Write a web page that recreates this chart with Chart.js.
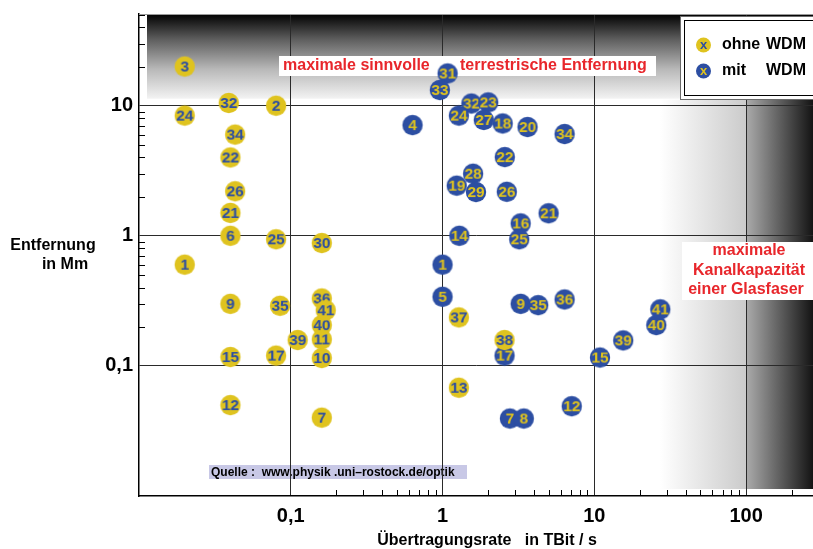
<!DOCTYPE html>
<html>
<head>
<meta charset="utf-8">
<script src="https://cdn.jsdelivr.net/npm/chart.js@4.4.1/dist/chart.umd.min.js"></script>
<style>
  html, body { margin: 0; padding: 0; background: #fff; overflow: hidden; }
  canvas { display: block; }
</style>
</head>
<body>
<canvas id="chart" width="813" height="549"></canvas>
<script>
// Optical fibre transmission records: data rate (TBit/s) against distance (Mm)

// without wavelength multiplexing
const ohneLabels = ['1', '2', '3', '6', '7', '9', '10', '11', '12', '13', '15', '17', '21', '22', '24', '25', '26', '30', '32', '34', '35', '36', '37', '38', '39', '40', '41'];
const ohneRate   = [0.02, 0.08, 0.02, 0.04, 0.16, 0.04, 0.16, 0.16, 0.04, 1.28, 0.04, 0.08, 0.04, 0.04, 0.02, 0.08, 0.043, 0.16, 0.039, 0.043, 0.085, 0.16, 1.28, 2.56, 0.111, 0.16, 0.17];
const ohneDist   = [0.6, 10, 20, 1, 0.04, 0.3, 0.115, 0.16, 0.05, 0.068, 0.117, 0.12, 1.5, 4, 8.4, 0.94, 2.2, 0.88, 10.5, 6, 0.29, 0.33, 0.236, 0.158, 0.158, 0.206, 0.268];

// with wavelength multiplexing
const mitLabels = ['1', '4', '5', '7', '8', '9', '12', '14', '15', '16', '17', '18', '19', '20', '21', '22', '32', '23', '24', '25', '26', '27', '28', '29', '31', '33', '34', '35', '36', '39', '40', '41'];
const mitRate   = [1.0, 0.634, 1.0, 2.78, 3.43, 3.27, 7.1, 1.29, 10.9, 3.27, 2.56, 2.49, 1.24, 3.63, 5.0, 2.57, 1.55, 2.0, 1.28, 3.2, 2.65, 1.87, 1.59, 1.66, 1.08, 0.96, 6.37, 4.27, 6.37, 15.5, 25.6, 27.2];
const mitDist   = [0.6, 7.1, 0.34, 0.0394, 0.0394, 0.3, 0.049, 1.0, 0.116, 1.245, 0.12, 7.3, 2.43, 6.86, 1.49, 4.03, 10.4, 10.6, 8.4, 0.94, 2.18, 7.77, 3.0, 2.17, 17.7, 13.2, 6.06, 0.293, 0.324, 0.157, 0.206, 0.272];

// axes
const rateRange = [0.01, 276];
const distRange = [0.01, 50.7];
const rateLabelled = [0.1, 1, 10, 100];
const distLabelled = [0.1, 1, 10];
const rateMinorFrom = 0.1;
const distMinorFrom = 0.1;

const seriesNames = ['ohne', 'mit'];

const YELLOW = '#dfc31f';
const BLUE = '#2c4ea2';
const RED = '#e8262b';
const FONT = '"Liberation Sans", Arial, Helvetica, sans-serif';

Chart.defaults.font.family = FONT;

function badge(text, fill, ink) {
  const c = document.createElement('canvas');
  c.width = 26; c.height = 26;
  const g = c.getContext('2d');
  g.beginPath();
  g.arc(13, 13, 10.2, 0, Math.PI * 2);
  g.fillStyle = fill;
  g.fill();
  g.font = 'bold 15.5px ' + FONT;
  g.fillStyle = ink;
  g.textAlign = 'center';
  g.textBaseline = 'middle';
  g.fillText(text, 13, 13.5);
  return c;
}

function logTicks(min, max) {
  const out = [];
  for (let e = Math.floor(Math.log10(min)); e <= Math.ceil(Math.log10(max)); e++) {
    for (let m = 1; m <= 9; m++) {
      const v = +(m * Math.pow(10, e)).toPrecision(6);
      if (v >= min && v <= max) out.push({ value: v });
    }
  }
  return out;
}
const isIn = (list, v) => list.some(t => Math.abs(t - v) / t < 1e-6);
const deNum = v => String(v).replace('.', ',');

// shaded bands, source note
const backdrop = {
  id: 'backdrop',
  beforeDraw(chart) {
    const { ctx, chartArea: a, scales: { x, y } } = chart;
    ctx.save();
    const y10 = y.getPixelForValue(10);
    // upper band: distance limit
    const bandBottom = y10 - 7;
    let g = ctx.createLinearGradient(0, a.top, 0, bandBottom);
    g.addColorStop(0, '#000000');
    g.addColorStop(0.3, '#5e5e5e');
    g.addColorStop(0.65, '#b8b8b8');
    g.addColorStop(1, '#f3f3f3');
    ctx.fillStyle = g;
    ctx.fillRect(a.left + 8, a.top, a.right - a.left - 8, bandBottom - a.top);
    // right band: channel capacity limit
    const p100 = x.getPixelForValue(100);
    const rTop = y10 - 6, rBot = a.bottom - 7;
    g = ctx.createLinearGradient(p100 - 86, 0, p100, 0);
    g.addColorStop(0, '#ffffff');
    g.addColorStop(1, '#cbcbcb');
    ctx.fillStyle = g;
    ctx.fillRect(p100 - 86, rTop, 86, rBot - rTop);
    g = ctx.createLinearGradient(p100, 0, a.right, 0);
    g.addColorStop(0, '#ababab');
    g.addColorStop(1, '#141414');
    ctx.fillStyle = g;
    ctx.fillRect(p100, rTop, a.right - p100, rBot - rTop);
    // source note
    ctx.font = 'bold 12px ' + FONT;
    ctx.fillStyle = '#c8c8e6';
    ctx.fillRect(209, 465, 258, 14);
    ctx.fillStyle = '#000';
    ctx.textBaseline = 'middle';
    ctx.textAlign = 'left';
    ctx.fillText('Quelle :  www.physik .uni\u2013rostock.de/optik', 211, 472.5);
    ctx.restore();
  },
  beforeDatasetsDraw(chart) {
    const { ctx, chartArea: a, scales: { x, y } } = chart;
    ctx.save();
    // frame top edge
    ctx.strokeStyle = '#9a9a9a';
    ctx.lineWidth = 1;
    ctx.beginPath();
    ctx.moveTo(a.left, a.top + 0.5); ctx.lineTo(a.right, a.top + 0.5);
    ctx.stroke();
    // inward minor ticks
    ctx.strokeStyle = '#000';
    ctx.beginPath();
    x.ticks.forEach(t => {
      if (t.value < rateMinorFrom || isIn(rateLabelled, t.value)) return;
      const px = Math.round(x.getPixelForValue(t.value)) + 0.5;
      ctx.moveTo(px, a.bottom); ctx.lineTo(px, a.bottom - 6);
    });
    y.ticks.forEach(t => {
      if (t.value < distMinorFrom || isIn(distLabelled, t.value)) return;
      const py = Math.round(y.getPixelForValue(t.value)) + 0.5;
      ctx.moveTo(a.left, py); ctx.lineTo(a.left + 6, py);
    });
    ctx.stroke();
    // annotation boxes
    ctx.font = 'bold 16px ' + FONT;
    ctx.textBaseline = 'middle';
    ctx.fillStyle = '#fff';
    ctx.fillRect(279, 56, 377, 20);
    ctx.fillRect(682, 242, a.right - 682, 58);
    ctx.fillStyle = RED;
    ctx.textAlign = 'left';
    ctx.fillText('maximale sinnvolle', 283, 66);
    ctx.fillText('terrestrische Entfernung', 460, 66);
    ctx.textAlign = 'center';
    ctx.fillText('maximale', 749, 251);
    ctx.fillText('Kanalkapazit\u00e4t', 749, 270.5);
    ctx.fillText('einer Glasfaser', 746, 290);
    ctx.restore();
  },
  afterDraw(chart) {
    const { ctx } = chart;
    ctx.save();
    // axis titles
    ctx.fillStyle = '#000';
    ctx.font = 'bold 16px ' + FONT;
    ctx.textAlign = 'center';
    ctx.textBaseline = 'middle';
    ctx.fillText('Entfernung', 53, 246);
    ctx.fillText('in Mm', 65, 265);
    ctx.fillText('\u00dcbertragungsrate   in TBit / s', 487, 541);
    // legend
    ctx.fillStyle = '#fff';
    ctx.fillRect(680, 16, 140, 84);
    ctx.lineWidth = 1;
    ctx.strokeStyle = '#6a6a6a';
    ctx.strokeRect(680.5, 16.5, 160, 83);
    ctx.strokeStyle = '#000';
    ctx.strokeRect(684.5, 20.5, 160, 75);
    const rows = [
      { name: seriesNames[0], fill: YELLOW, ink: BLUE, y: 45 },
      { name: seriesNames[1], fill: BLUE, ink: YELLOW, y: 71 }
    ];
    rows.forEach(r => {
      ctx.beginPath();
      ctx.arc(703.5, r.y, 7.5, 0, Math.PI * 2);
      ctx.fillStyle = r.fill;
      ctx.fill();
      ctx.font = 'bold 13px ' + FONT;
      ctx.fillStyle = r.ink;
      ctx.textAlign = 'center';
      ctx.fillText('x', 703.5, r.y);
      ctx.font = 'bold 16px ' + FONT;
      ctx.fillStyle = '#000';
      ctx.textAlign = 'left';
      ctx.fillText(r.name, 722, r.y);
      ctx.fillText('WDM', 766, r.y);
    });
    ctx.restore();
  }
};

const majorGrid = list => ctx =>
  (ctx.tick && isIn(list, ctx.tick.value)) ? '#2a2a2a' : 'rgba(0,0,0,0)';

new Chart(document.getElementById('chart'), {
  type: 'scatter',
  data: {
    datasets: [
      {
        label: 'ohne WDM',
        data: ohneRate.map((r, i) => ({ x: r, y: ohneDist[i] })),
        pointStyle: ohneLabels.map(l => badge(l, YELLOW, BLUE)),
        pointRadius: 10
      },
      {
        label: 'mit WDM',
        data: mitRate.map((r, i) => ({ x: r, y: mitDist[i] })),
        pointStyle: mitLabels.map(l => badge(l, BLUE, YELLOW)),
        pointRadius: 10
      }
    ]
  },
  options: {
    responsive: false,
    animation: false,
    events: [],
    devicePixelRatio: 1,
    layout: { autoPadding: false, padding: { top: 14, right: 0, bottom: 0, left: 0 } },
    plugins: { legend: { display: false }, tooltip: { enabled: false } },
    scales: {
      x: {
        type: 'logarithmic',
        min: rateRange[0],
        max: rateRange[1],
        afterBuildTicks: s => { s.ticks = logTicks(rateRange[0], rateRange[1]); },
        afterFit: s => { s.height = 53; s.paddingLeft = 0; s.paddingRight = 0; },
        grid: { color: majorGrid(rateLabelled), drawTicks: false, lineWidth: 1 },
        border: { display: true, color: '#000', width: 1.5 },
        ticks: {
          autoSkip: false, maxRotation: 0, padding: 8, color: '#000',
          font: { size: 20, weight: 'bold', family: FONT },
          callback: v => isIn(rateLabelled, v) ? deNum(v) : ''
        }
      },
      y: {
        type: 'logarithmic',
        min: distRange[0],
        max: distRange[1],
        afterBuildTicks: s => { s.ticks = logTicks(distRange[0], distRange[1]); },
        afterFit: s => { s.width = 139; s.paddingTop = 0; s.paddingBottom = 0; },
        grid: { color: majorGrid(distLabelled), drawTicks: false, lineWidth: 1 },
        border: { display: true, color: '#000', width: 1.5 },
        ticks: {
          autoSkip: false, padding: 6, color: '#000',
          font: { size: 20, weight: 'bold', family: FONT },
          callback: v => isIn(distLabelled, v) ? deNum(v) : ''
        }
      }
    }
  },
  plugins: [backdrop]
});
</script>
</body>
</html>
